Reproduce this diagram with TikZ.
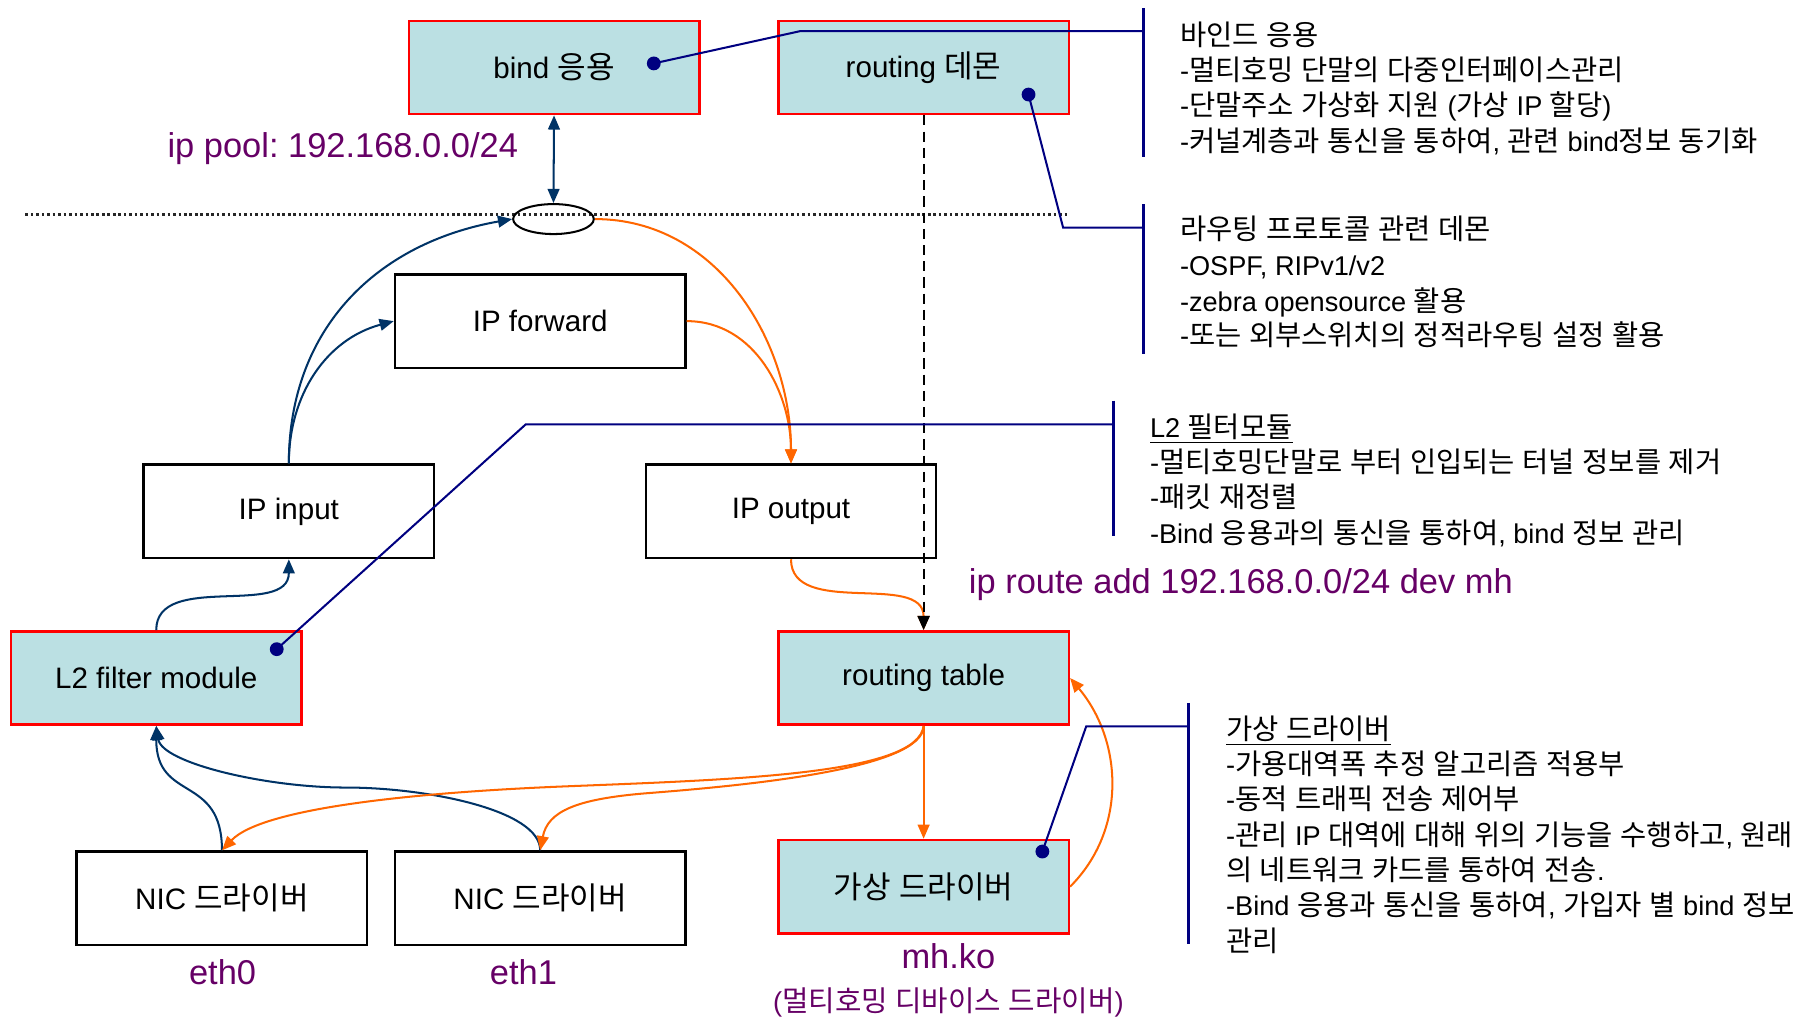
\documentclass[tikz,border=0pt]{standalone}
\usepackage{fontspec}
\setmainfont{Liberation Sans}
\newfontfamily\hangulfont[Scale=1.05]{Noto Sans CJK KR}
\usetikzlibrary{arrows.meta,shapes.geometric}

% Hangul syllables are set in the CJK family, everything else in Liberation Sans
\newXeTeXintercharclass\hangulclass
\count255="AC00
\loop
  \XeTeXcharclass\count255=\hangulclass
  \advance\count255 by 1
\ifnum\count255<"D7A4 \repeat
\def\hangulbridge#1{%
  \XeTeXinterchartoks #1 \hangulclass={\hangulfont}%
  \XeTeXinterchartoks \hangulclass #1={\rmfamily}}
\hangulbridge{0}\hangulbridge{4095}
\ifnum\hangulclass>3 \hangulbridge{1}\hangulbridge{2}\hangulbridge{3}\fi
\XeTeXinterchartokenstate=1
\frenchspacing

\definecolor{boxfill}{RGB}{187,224,227}
\definecolor{boxred}{RGB}{255,0,0}
\definecolor{flowblue}{RGB}{0,51,102}
\definecolor{noteblue}{RGB}{0,0,128}
\definecolor{floworange}{RGB}{255,102,0}
\definecolor{labpurple}{RGB}{102,0,102}

\tikzset{
  modbox/.style={draw=black, fill=white, line width=1.2pt, minimum width=5.04cm,
    minimum height=1.62cm, inner sep=0pt, font=\fontsize{14.6}{17}\selectfont},
  keybox/.style={modbox, draw=boxred, fill=boxfill},
  tip/.style={-{Triangle[length=7pt,width=5.8pt]}},
  flowarrow/.style={draw=flowblue, line width=1pt, tip},
  biflow/.style={draw=flowblue, line width=1pt,
    {Triangle[length=7pt,width=5.8pt]}-{Triangle[length=7pt,width=5.8pt]}},
  outarrow/.style={draw=floworange, line width=1pt, tip},
  routeline/.style={draw=black, line width=1pt, dash pattern=on 5pt off 3pt,
    -{Triangle[length=7pt,width=6pt]}},
  kernelline/.style={draw=black!85, line width=1.3pt, dash pattern=on 1.3pt off 1.4pt},
  noteline/.style={draw=noteblue, line width=1pt},
  notebar/.style={draw=noteblue, line width=1.4pt},
  notedot/.style={circle, fill=noteblue, inner sep=0pt, minimum size=0.24cm},
  notetext/.style={anchor=base west, inner sep=0pt, font=\fontsize{13.4}{17}\selectfont},
  purplelab/.style={anchor=base, text=labpurple, inner sep=0pt, font=\fontsize{17}{20}\selectfont},
}

\begin{document}
\begin{tikzpicture}[x=0.02cm, y=-0.02cm]
\useasboundingbox (0,0) rectangle (1568,884);

% user space / kernel boundary
\coordinate (kernL) at (22,186);
\coordinate (kernR) at (927,186);
\draw[kernelline] (kernL) -- (kernR);

% modules
\node[keybox] (bind)    at (480.5,58.5) {bind 응용};
\node[keybox] (rdaemon) at (801,58.5)   {routing 데몬};
\node[modbox] (fwd)     at (468.5,278.5) {IP forward};
\node[modbox] (ipin)    at (250.5,443.5) {IP input};
\node[modbox] (ipout)   at (686,443.5)   {IP output};
\node[keybox] (l2)      at (135.5,588)   {L2 filter module};
\node[keybox] (rt)      at (801,588)     {routing table};
\node[modbox] (nic0)    at (192.5,779)   {NIC 드라이버};
\node[modbox] (nic1)    at (468.5,779)   {NIC 드라이버};
\node[keybox] (vdrv)    at (801,769)     {가상 드라이버};

\node[ellipse, draw=black, line width=1pt, minimum width=1.4cm, minimum height=0.52cm,
  inner sep=0pt] (pool) at (480,190) {};

% labels
\node[purplelab, anchor=base west] (poollab) at (145,136.5) {ip pool: 192.168.0.0/24};
\node[purplelab, anchor=base west] (routelab) at (840,515) {ip route add 192.168.0.0/24 dev mh};
\node[purplelab] (eth0lab) at (193,854) {eth0};
\node[purplelab] (eth1lab) at (454,854) {eth1};
\node[purplelab] (mhlab) at (822.5,840) {mh.ko};
\node[purplelab, font=\fontsize{13.5}{17}\selectfont] (mhsub) at (822.5,877) {(멀티호밍 디바이스 드라이버)};

% incoming path (blue)
\draw[biflow] (bind.south) -- (pool.north);
\draw[flowarrow] (ipin.north) to[out=90,in=190,looseness=1.05] (pool.west);
\draw[flowarrow] (ipin.north) to[out=90,in=195] (fwd.west);
\draw[flowarrow] (l2.north) to[out=90,in=-90] (ipin.south);
\draw[flowarrow] (nic0.north) to[out=90,in=-90,looseness=1.4] (l2.south);
\coordinate (nicmid) at (300,683);
\draw[flowarrow] (nic1.north) .. controls +(0,-35) and +(70,0) .. (nicmid)
  .. controls +(-70,0) and +(5,32) .. (l2.south);

% outgoing path (orange)
\draw[outarrow] (pool.east) to[out=0,in=90] (ipout.north);
\draw[outarrow] (fwd.east) to[out=0,in=90] (ipout.north);
\draw[outarrow] (ipout.south) to[out=-90,in=90] (rt.north);
\coordinate (farmid) at (490,682);
\draw[outarrow] (rt.south) .. controls +(-5,42) and +(150,-6) .. (farmid)
  .. controls +(-110,4.4) and +(37,-39) .. (nic0.north);
\coordinate (nearmid) at (560,688);
\draw[outarrow] (rt.south) .. controls +(0,37) and +(90,-7) .. (nearmid)
  .. controls +(-60,5) and +(6.5,-34) .. (nic1.north);
\draw[outarrow] (rt.south) -- (vdrv.north);
\draw[outarrow] (vdrv.east) to[out=45,in=-50] (rt.east);

% routing daemon updates the routing table
\draw[routeline] (rdaemon.south) -- (rt.north);

% annotation markers
\node[notedot] (dotA) at (567,55) {};
\node[notedot] (dotB) at (892,82) {};
\node[notedot] (dotC) at (240,563) {};
\node[notedot] (dotD) at (904,738.5) {};

\coordinate (bendA) at (694,27);
\coordinate (tickA) at (992,27);
\coordinate (barAtop) at (992,7);
\coordinate (barAbot) at (992,136);
\draw[noteline] (dotA.center) -- (bendA) -- (tickA);
\draw[notebar] (barAtop) -- (barAbot);

\coordinate (bendB) at (922,197.5);
\coordinate (tickB) at (992,197.5);
\coordinate (barBtop) at (992,177);
\coordinate (barBbot) at (992,307);
\draw[noteline] (dotB.center) -- (bendB) -- (tickB);
\draw[notebar] (barBtop) -- (barBbot);

\coordinate (bendC) at (456,368);
\coordinate (tickC) at (966,368);
\coordinate (barCtop) at (966,347.5);
\coordinate (barCbot) at (966,464.5);
\draw[noteline] (dotC.center) -- (bendC) -- (tickC);
\draw[notebar] (barCtop) -- (barCbot);

\coordinate (bendD) at (942,630);
\coordinate (tickD) at (1031,630);
\coordinate (barDtop) at (1031,609.5);
\coordinate (barDbot) at (1031,819);
\draw[noteline] (dotD.center) -- (bendD) -- (tickD);
\draw[notebar] (barDtop) -- (barDbot);

% annotation texts
\node[notetext] (noteA1) at (1023,39.8)  {바인드 응용};
\node[notetext] (noteA2) at (1023,70.2)  {-멀티호밍 단말의 다중인터페이스관리};
\node[notetext] (noteA3) at (1023,100.6) {-단말주소 가상화 지원 (가상 IP 할당)};
\node[notetext] (noteA4) at (1023,131)   {-커널계층과 통신을 통하여, 관련 bind정보 동기화};

\node[notetext] (noteB1) at (1023,208)   {라우팅 프로토콜 관련 데몬};
\node[notetext] (noteB2) at (1023,239)   {-OSPF, RIPv1/v2};
\node[notetext] (noteB3) at (1023,270)   {-zebra opensource 활용};
\node[notetext] (noteB4) at (1023,300)   {-또는 외부스위치의 정적라우팅 설정 활용};

\node[notetext] (noteC1) at (997,379)    {\underline{L2 필터모듈}};
\node[notetext] (noteC2) at (997,410)    {-멀티호밍단말로 부터 인입되는 터널 정보를 제거};
\node[notetext] (noteC3) at (997,440)    {-패킷 재정렬};
\node[notetext] (noteC4) at (997,471)    {-Bind 응용과의 통신을 통하여, bind 정보 관리};

\node[notetext] (noteD1) at (1063,641)   {\underline{가상 드라이버}};
\node[notetext] (noteD2) at (1063,672)   {-가용대역폭 추정 알고리즘 적용부};
\node[notetext] (noteD3) at (1063,702)   {-동적 트래픽 전송 제어부};
\node[notetext] (noteD4) at (1063,733)   {-관리 IP 대역에 대해 위의 기능을 수행하고, 원래};
\node[notetext] (noteD5) at (1063,764)   {의 네트워크 카드를 통하여 전송.};
\node[notetext] (noteD6) at (1063,794)   {-Bind 응용과 통신을 통하여, 가입자 별 bind 정보};
\node[notetext] (noteD7) at (1063,825)   {관리};
\end{tikzpicture}
\end{document}
